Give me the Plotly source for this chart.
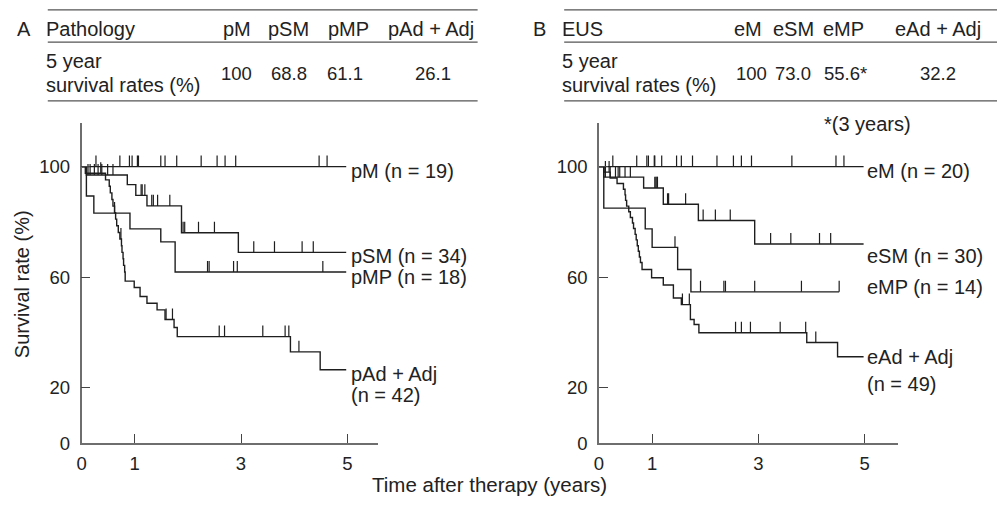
import plotly.graph_objects as go

W, H = 997, 506

# ---------------- Panel A : Pathology ----------------
pM_times = []
pM_values = []
pM_end = 4.98
pM_censor = [0.27, 0.72, 0.90, 0.95, 1.05, 1.07, 1.49, 1.57, 1.79, 2.25, 2.55, 2.70, 2.90, 4.47, 4.62]

pSM_times = [0.09, 0.86, 1.02, 1.23, 1.88, 2.95]
pSM_values = [97.0, 93.5, 89.6, 85.8, 76.1, 69.0]
pSM_end = 4.98
pSM_censor = [0.12, 0.16, 0.24, 0.31, 0.38, 0.49, 0.59, 1.12, 1.14, 1.19, 1.32, 1.35, 1.43, 1.66,
              1.91, 1.94, 2.20, 2.50, 3.24, 3.63, 4.15, 4.36]

pMP_times = [0.09, 0.23, 0.91, 1.49, 1.76]
pMP_values = [89.4, 83.2, 77.5, 72.8, 61.9]
pMP_end = 4.98
pMP_censor = [0.62, 2.37, 2.40, 2.86, 2.93, 4.54]

pAd_times = [0.07, 0.45, 0.52, 0.54, 0.57, 0.59, 0.62, 0.64, 0.66, 0.69, 0.72, 0.75, 0.76, 0.78,
             0.79, 0.81, 0.82, 0.99, 1.10, 1.23, 1.42, 1.57, 1.74, 1.80, 3.93, 4.49]
pAd_values = [97.6, 95.2, 92.9, 90.5, 88.1, 85.7, 83.3, 81.0, 78.6, 76.2, 73.8, 71.4, 69.0, 66.7,
              64.3, 61.9, 58.6, 56.3, 53.0, 50.6, 48.2, 44.7, 41.8, 38.5, 33.0, 26.5]
pAd_end = 4.98
pAd_censor = [0.36, 0.74, 1.59, 1.71, 2.59, 2.69, 3.41, 3.83, 3.90, 4.09]

# ---------------- Panel B : EUS ----------------
eM_times = []
eM_values = []
eM_end = 4.98
eM_censor = [0.26, 0.71, 0.90, 0.93, 1.04, 1.05, 1.18, 1.46, 1.55, 1.76, 2.22, 2.53, 2.68, 2.87,
             3.63, 4.46, 4.61]

eSM_times = [0.09, 0.84, 1.21, 1.87, 2.93]
eSM_values = [96.2, 92.3, 86.4, 80.5, 72.0]
eSM_end = 4.98
eSM_censor = [0.12, 0.21, 0.31, 0.36, 0.39, 0.49, 0.59, 1.05, 1.07, 1.09, 1.10, 1.29, 1.31, 1.63,
              1.96, 2.19, 2.47, 3.23, 3.61, 4.15, 4.36]

eMP_times = [0.09, 0.87, 1.00, 1.48, 1.73]
eMP_values = [85.0, 77.5, 70.8, 62.8, 54.7]
eMP_end = 4.52
eMP_censor = [1.43, 1.91, 2.35, 2.38, 2.93, 3.81, 4.52]

eAd_times = [0.09, 0.21, 0.34, 0.46, 0.49, 0.50, 0.52, 0.56, 0.59, 0.63, 0.65, 0.68, 0.70, 0.72,
             0.74, 0.76, 0.78, 0.81, 0.99, 1.21, 1.40, 1.55, 1.72, 1.79, 1.88, 3.91, 4.49]
eAd_values = [98.0, 95.9, 93.9, 91.8, 89.8, 87.8, 85.7, 83.7, 81.6, 79.6, 77.6, 75.5, 73.5, 71.4,
              69.4, 67.3, 65.3, 62.8, 59.8, 57.2, 52.5, 50.1, 44.7, 42.9, 39.9, 36.4, 31.2]
eAd_end = 4.98
eAd_censor = [0.12, 0.19, 1.57, 1.70, 2.57, 2.68, 2.85, 3.41, 3.89, 4.08]

# curve labels
labels_A = ["pM (n = 19)", "pSM (n = 34)", "pMP (n = 18)", "pAd + Adj", "(n = 42)"]
labels_A_y = [98.4, 67.6, 60.2, 25.0, 17.4]
labels_B = ["eM (n = 20)", "eSM (n = 30)", "eMP (n = 14)", "eAd + Adj", "(n = 49)"]
labels_B_y = [98.4, 67.6, 56.6, 31.0, 21.2]

# tables
tableA_title = ["A", "Pathology"]
tableA_cols = ["pM", "pSM", "pMP", "pAd + Adj"]
tableA_vals = ["100", "68.8", "61.1", "26.1"]
tableB_title = ["B", "EUS"]
tableB_cols = ["eM", "eSM", "eMP", "eAd + Adj"]
tableB_vals = ["100", "73.0", "55.6*", "32.2"]
row_label = ["5 year", "survival rates (%)"]
footnote_B = "*(3 years)"

x_ticks = [0, 1, 3, 5]
y_ticks = [0, 20, 60, 100]

FONT = "Liberation Sans, Arial, sans-serif"
FS = 20
FS_NUM = 18.5
TXT = "#222222"
LINE = "#1e1e1e"
AX = "#6e6e6e"


def px(x):
    return x / W


def py(y):
    return 1 - y / H


def step_at(times, values, t):
    v = 100.0
    for ti, vi in zip(times, values):
        if ti <= t + 1e-9:
            v = vi
    return v


fig = go.Figure()


def add_curve(times, values, end, censor, xa, ya):
    xs = [0] + list(times) + [end]
    ys = [100] + list(values) + [values[-1] if values else 100]
    fig.add_trace(go.Scatter(x=xs, y=ys, mode="lines", line=dict(color=LINE, width=1.4, shape="hv"),
                             xaxis=xa, yaxis=ya, showlegend=False, hoverinfo="skip"))
    cx, cy = [], []
    for t in censor:
        v = step_at(times, values, t)
        cx += [t, t, None]
        cy += [v, v + 4.0, None]
    fig.add_trace(go.Scatter(x=cx, y=cy, mode="lines", line=dict(color=LINE, width=1.2),
                             xaxis=xa, yaxis=ya, showlegend=False, hoverinfo="skip"))


add_curve(pM_times, pM_values, pM_end, pM_censor, "x", "y")
add_curve(pSM_times, pSM_values, pSM_end, pSM_censor, "x", "y")
add_curve(pMP_times, pMP_values, pMP_end, pMP_censor, "x", "y")
add_curve(pAd_times, pAd_values, pAd_end, pAd_censor, "x", "y")

add_curve(eM_times, eM_values, eM_end, eM_censor, "x2", "y2")
add_curve(eSM_times, eSM_values, eSM_end, eSM_censor, "x2", "y2")
add_curve(eMP_times, eMP_values, eMP_end, eMP_censor, "x2", "y2")
add_curve(eAd_times, eAd_values, eAd_end, eAd_censor, "x2", "y2")

y_dom = [py(452), py(125)]
y_rng = [0, (452 - 125) / 2.82]

axis_common = dict(showline=True, linecolor=AX, linewidth=1.6, ticks="inside", ticklen=9,
                   tickwidth=1.2, tickcolor="#444", showgrid=False, zeroline=False,
                   tickfont=dict(family=FONT, size=FS_NUM, color=TXT), fixedrange=True)

fig.update_layout(
    width=W, height=H, margin=dict(l=0, r=0, t=0, b=0),
    paper_bgcolor="white", plot_bgcolor="white",
    font=dict(family=FONT, size=FS, color=TXT),
    xaxis=dict(domain=[px(77), px(375)], range=[0, (375 - 77) / 53.4], anchor="y",
               tickvals=x_ticks, ticklabelstandoff=3, **axis_common),
    yaxis=dict(domain=y_dom, range=y_rng, anchor="x", tickvals=y_ticks, ticklabelstandoff=6,
               **axis_common),
    xaxis2=dict(domain=[px(597), px(898)], range=[0, (898 - 597) / 53.4], anchor="y2",
                tickvals=x_ticks, ticklabelstandoff=3, **axis_common),
    yaxis2=dict(domain=y_dom, range=y_rng, anchor="x2", tickvals=y_ticks, ticklabelstandoff=6,
                **axis_common),
)

ann = []


def note(x, y, text, xanchor="left", xref="paper", yref="paper", size=FS, **kw):
    ann.append(dict(x=x, y=y, xref=xref, yref=yref, text=text, showarrow=False,
                    xanchor=xanchor, yanchor="middle", borderpad=0, borderwidth=0,
                    font=dict(family=FONT, size=size, color=TXT), **kw))


# curve labels
for txt, yv in zip(labels_A, labels_A_y):
    note(5.07, yv, txt, xref="x", yref="y")
for txt, yv in zip(labels_B, labels_B_y):
    note(5.05, yv, txt, xref="x2", yref="y2")

# axis titles
note(px(17), py(290), "Survival rate (%)", xanchor="center", textangle=-90)
note(px(487), py(494), "Time after therapy (years)", xanchor="center", size=20.5)

shapes = []


def add_table(off, title, cols, vals, col_x, val_x, rule_end):
    note(px(12 + off), py(30), title[0])
    note(px(41 + off), py(30), title[1])
    for c, cxp in zip(cols, col_x):
        note(px(cxp), py(30), c, xanchor="center")
    note(px(41 + off), py(62), row_label[0])
    note(px(41 + off), py(87), row_label[1])
    for v, vxp in zip(vals, val_x):
        note(px(vxp), py(75), v, xanchor="center", size=FS_NUM)
    for yy in (10, 43, 103):
        shapes.append(dict(type="line", xref="paper", yref="paper", x0=px(43 + off),
                           x1=px(rule_end), y0=py(yy), y1=py(yy),
                           line=dict(color="#555", width=1.3)))


add_table(0, tableA_title, tableA_cols, tableA_vals, [233, 285, 345, 428], [233, 285, 342, 430], 475)
add_table(519, tableB_title, tableB_cols, tableB_vals, [747, 792, 843, 938], [750, 792, 845, 938], 997)
note(px(867), py(127), footnote_B, xanchor="center")

fig.update_layout(annotations=ann, shapes=shapes)
fig.write_html("out.html")
